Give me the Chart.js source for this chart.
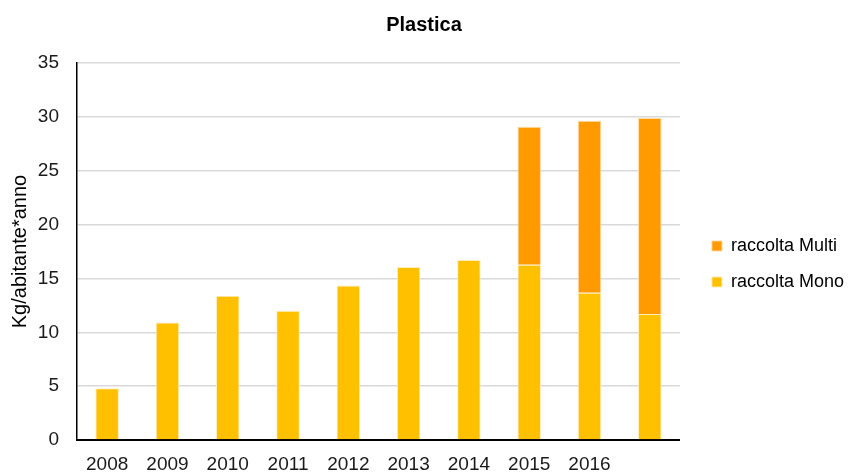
<!DOCTYPE html>
<html>
<head>
<meta charset="utf-8">
<script src="https://cdn.jsdelivr.net/npm/chart.js@4/dist/chart.umd.min.js"></script>
<style>
  html, body { margin: 0; padding: 0; background: #ffffff; }
  #wrap { width: 853px; height: 472px; position: relative; }
</style>
</head>
<body>
<div id="wrap"><canvas id="c" width="853" height="472"></canvas></div>
<script>
const categories = ['2008', '2009', '2010', '2011', '2012', '2013', '2014', '2015', '2016', ''];
const monoValues = [4.8, 10.9, 13.4, 12.0, 14.35, 16.05, 16.7, 16.27, 13.68, 11.7];
const multiValues = [null, null, null, null, null, null, null, 12.8, 15.95, 18.2];
const yTicks = [0, 5, 10, 15, 20, 25, 30, 35];
const seriesNames = ['raccolta Mono', 'raccolta Multi'];
const chartTitle = 'Plastica';
const yTitle = 'Kg/abitante*anno';

const FONT = "'Liberation Sans', Arial, sans-serif";

// Nudges the legend block: gap from the plot area and vertical position.
const legendNudge = {
  id: 'legendNudge',
  afterLayout(chart) {
    const lg = chart.legend;
    if (!lg) return;
    lg.left += 14;
    lg.right = chart.width;
    lg.top += 25;
  }
};

new Chart(document.getElementById('c'), {
  type: 'bar',
  plugins: [legendNudge],
  data: {
    labels: categories,
    datasets: [
      {
        label: seriesNames[0],
        data: monoValues,
        backgroundColor: '#FFC000',
        borderColor: 'rgba(255,235,180,0.9)',
        borderWidth: 1,
        barPercentage: 0.39,
        categoryPercentage: 1.0
      },
      {
        label: seriesNames[1],
        data: multiValues,
        backgroundColor: '#FF9A00',
        borderColor: 'rgba(255,215,160,0.9)',
        borderWidth: 1,
        barPercentage: 0.39,
        categoryPercentage: 1.0
      }
    ]
  },
  options: {
    responsive: false,
    animation: false,
    layout: { padding: { left: 8, right: 13, top: 0, bottom: 0 } },
    plugins: {
      title: {
        display: true,
        text: chartTitle,
        color: '#000000',
        font: { family: FONT, size: 20, weight: 'bold', lineHeight: 1.2 },
        padding: { top: 13, bottom: 26 }
      },
      legend: {
        position: 'right',
        fullSize: false,
        reverse: true,
        align: 'center',
        labels: {
          color: '#000000',
          font: { family: FONT, size: 18 },
          boxWidth: 10,
          boxHeight: 10,
          padding: 18,
          useBorderRadius: false
        }
      },
      tooltip: { enabled: false }
    },
    scales: {
      x: {
        stacked: true,
        grid: { display: false, drawTicks: false },
        border: { display: true, color: '#000000', width: 2 },
        ticks: {
          color: '#1a1a1a',
          font: { family: FONT, size: 19, lineHeight: 1.0 },
          padding: 15,
          maxRotation: 0,
          autoSkip: false
        },
        afterFit: (scale) => { scale.height = 32; }
      },
      y: {
        stacked: true,
        min: yTicks[0],
        max: yTicks[yTicks.length - 1],
        afterBuildTicks: (axis) => { axis.ticks = yTicks.map(v => ({ value: v })); },
        grid: { color: '#d9d9d9', lineWidth: 1.5, drawTicks: false },
        border: { display: true, color: '#000000', width: 1.5 },
        ticks: {
          color: '#1a1a1a',
          font: { family: FONT, size: 19 },
          padding: 18
        },
        title: {
          display: true,
          text: yTitle,
          color: '#000000',
          font: { family: FONT, size: 20, lineHeight: 1.2 },
          padding: { top: 0, bottom: 7 }
        },
        afterFit: (scale) => { scale.width = 69; }
      }
    }
  }
});
</script>
</body>
</html>
